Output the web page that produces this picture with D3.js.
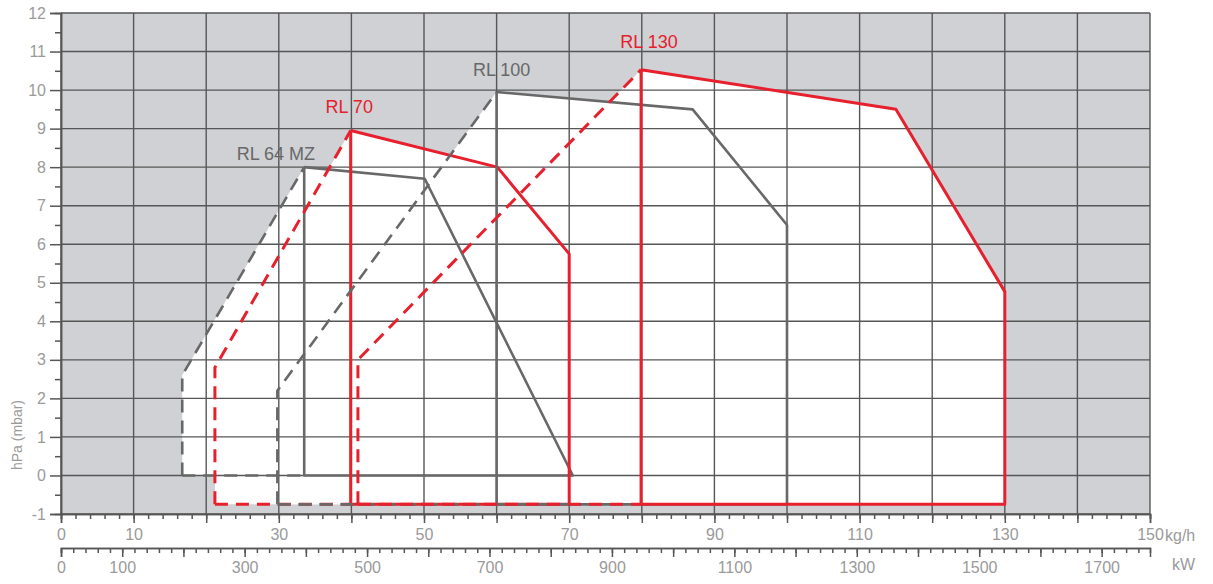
<!DOCTYPE html>
<html>
<head>
<meta charset="utf-8">
<script src="https://cdn.jsdelivr.net/npm/d3@7"></script>
<style>
  html, body { margin: 0; padding: 0; background: #fff; }
  svg { display: block; font-family: "Liberation Sans", Arial, sans-serif; }
</style>
</head>
<body>
<svg id="chart" width="1213" height="584"></svg>
<script>
// ---------- data ----------
const burnerNames = ["RL 64 MZ", "RL 70", "RL 100", "RL 130"];
const burnerKinds = ["gray", "red", "gray", "red"];
// envelope vertices: flow (kg/h) and pressure (hPa)
const rl64Flow = [16.7, 16.7, 33.5, 50.1, 70.5];
const rl64Pressure = [0, 2.6, 8.0, 7.7, 0];
const rl70Flow = [21.2, 21.2, 39.9, 60.1, 70.0, 70.0];
const rl70Pressure = [-0.75, 2.8, 8.95, 8.0, 5.75, -0.75];
const rl100Flow = [29.8, 29.8, 60.0, 87.0, 100.0, 100.0];
const rl100Pressure = [-0.75, 2.2, 9.95, 9.5, 6.5, -0.75];
const rl130Flow = [40.9, 40.9, 79.9, 115.0, 130.0, 130.0];
const rl130Pressure = [-0.75, 3.0, 10.53, 9.5, 4.77, -0.75];
const baseFlows = [rl64Flow, rl70Flow, rl100Flow, rl130Flow];
const basePressures = [rl64Pressure, rl70Pressure, rl100Pressure, rl130Pressure];
// label anchors (data coordinates)
const labelFlow = [29.6, 39.7, 60.7, 81.0];
const labelPressure = [8.33, 9.57, 10.51, 11.24];

const yTicks = [-1, 0, 1, 2, 3, 4, 5, 6, 7, 8, 9, 10, 11, 12];
const kgTicks = [0, 10, 20, 30, 40, 50, 60, 70, 80, 90, 100, 110, 120, 130, 140, 150];
const kgLabels = [0, 10, 30, 50, 70, 90, 110, 130, 150];
const kwTicks = d3.range(0, 1800, 100);
const kwLabels = [0, 100, 300, 500, 700, 900, 1100, 1300, 1500, 1700];
const kwPerKg = 11.86;

// ---------- setup ----------
const svg = d3.select("#chart");
const L = 61, R = 1150, T = 13, B = 514;
const x = d3.scaleLinear().domain([0, 150]).range([L, R]);
const y = d3.scaleLinear().domain([-1, 12]).range([B, T]);
const xkw = d3.scaleLinear().domain([0, 150 * kwPerKg]).range([L, R]);

const RED = "#e6202c", GRAY = "#686868", GRID = "#565656", TXT = "#9a9a9a";
const colorOf = k => k === "red" ? RED : GRAY;

// background
svg.append("rect").attr("x", L).attr("y", T).attr("width", R - L).attr("height", B - T).attr("fill", "#cfd1d4");

// white envelopes
const burners = burnerNames.map((n, i) => ({
  name: n, kind: burnerKinds[i],
  pts: baseFlows[i].map((f, j) => [f, basePressures[i][j]]),
  base: basePressures[i][0]
}));
const line = d3.line().x(d => x(d[0])).y(d => y(d[1]));
svg.append("g").selectAll("path").data(burners).join("path")
  .attr("d", d => line(d.pts) + "Z")
  .attr("fill", "#ffffff");

// grid
const grid = svg.append("g").attr("stroke", GRID).attr("stroke-width", 1.4);
grid.selectAll("line.v").data(kgTicks).join("line").attr("class", "v")
  .attr("x1", d => x(d)).attr("x2", d => x(d)).attr("y1", y(-1)).attr("y2", y(12));
grid.selectAll("line.h").data(yTicks).join("line").attr("class", "h")
  .attr("x1", x(0)).attr("x2", x(150)).attr("y1", d => y(d)).attr("y2", d => y(d));

// envelope lines
const lines = svg.append("g").attr("fill", "none").attr("stroke-linejoin", "round");
burners.forEach(b => {
  const c = colorOf(b.kind);
  const w = b.kind === "red" ? 3 : 2.6;
  const p = b.pts;
  const corner = p[2];
  const dashed = [[p[0][0], b.base], ...p.slice(1, 3)];
  lines.append("path").attr("d", line(dashed)).attr("stroke", c).attr("stroke-width", w)
    .attr("stroke-dasharray", "13,8");
  lines.append("path").attr("d", line([[p[0][0], b.base], [corner[0], b.base]]))
    .attr("stroke", c).attr("stroke-width", w).attr("stroke-dasharray", "13,8");
  lines.append("path").attr("d", line(p.slice(2).concat([[corner[0], b.base], corner])))
    .attr("stroke", c).attr("stroke-width", w);
});

// labels
svg.append("g").selectAll("text").data(burners).join("text")
  .attr("x", (d, i) => x(labelFlow[i])).attr("y", (d, i) => y(labelPressure[i]))
  .attr("text-anchor", "middle").attr("dominant-baseline", "central")
  .attr("font-size", 18).attr("fill", d => colorOf(d.kind))
  .text(d => d.name);

// ---------- axes ----------
function styleAxis(g) {
  g.select(".domain").attr("stroke", GRID).attr("stroke-width", 1.5);
  g.selectAll(".tick line").attr("stroke", GRID).attr("stroke-width", 1.5);
  g.selectAll(".tick text").attr("fill", TXT).attr("font-size", 16)
    .attr("font-family", "'Liberation Sans', Arial, sans-serif");
}
// y axis
const yMinor = d3.range(-0.5, 12, 1);
svg.append("g").attr("transform", `translate(${L},0)`)
  .call(d3.axisLeft(y).tickValues(yMinor).tickSize(6).tickFormat(""))
  .call(styleAxis);
svg.append("g").attr("transform", `translate(${L},0)`)
  .call(d3.axisLeft(y).tickValues(yTicks).tickSize(11).tickPadding(4).tickFormat(d => String(d)))
  .call(styleAxis);

// kg/h axis
svg.append("g").attr("transform", `translate(0,${B})`)
  .call(d3.axisBottom(x).tickValues(d3.range(0, 151, 2)).tickSize(5).tickFormat(""))
  .call(styleAxis);
svg.append("g").attr("transform", `translate(0,${B})`)
  .call(d3.axisBottom(x).tickValues(kgTicks).tickSize(9).tickPadding(6)
    .tickFormat(d => kgLabels.includes(d) ? String(d) : ""))
  .call(styleAxis);
svg.append("text").attr("x", 1165).attr("y", 535).attr("dominant-baseline", "central")
  .attr("fill", TXT).attr("font-size", 16).text("kg/h");

// kW axis
const KW_Y = 548;
svg.append("g").attr("transform", `translate(0,${KW_Y})`)
  .call(d3.axisBottom(xkw).tickValues(d3.range(0, 150 * kwPerKg, 20)).tickSize(5).tickFormat(""))
  .call(styleAxis);
svg.append("g").attr("transform", `translate(0,${KW_Y})`)
  .call(d3.axisBottom(xkw).tickValues(kwTicks).tickSize(9).tickPadding(5)
    .tickFormat(d => kwLabels.includes(d) ? String(d) : ""))
  .call(styleAxis);
svg.append("text").attr("x", 1172).attr("y", 564).attr("dominant-baseline", "central")
  .attr("fill", TXT).attr("font-size", 16).text("kW");

// y title
svg.append("text").attr("transform", "translate(17,435) rotate(-90)")
  .attr("text-anchor", "middle").attr("dominant-baseline", "central")
  .attr("fill", TXT).attr("font-size", 14).text("hPa (mbar)");
</script>
</body>
</html>
